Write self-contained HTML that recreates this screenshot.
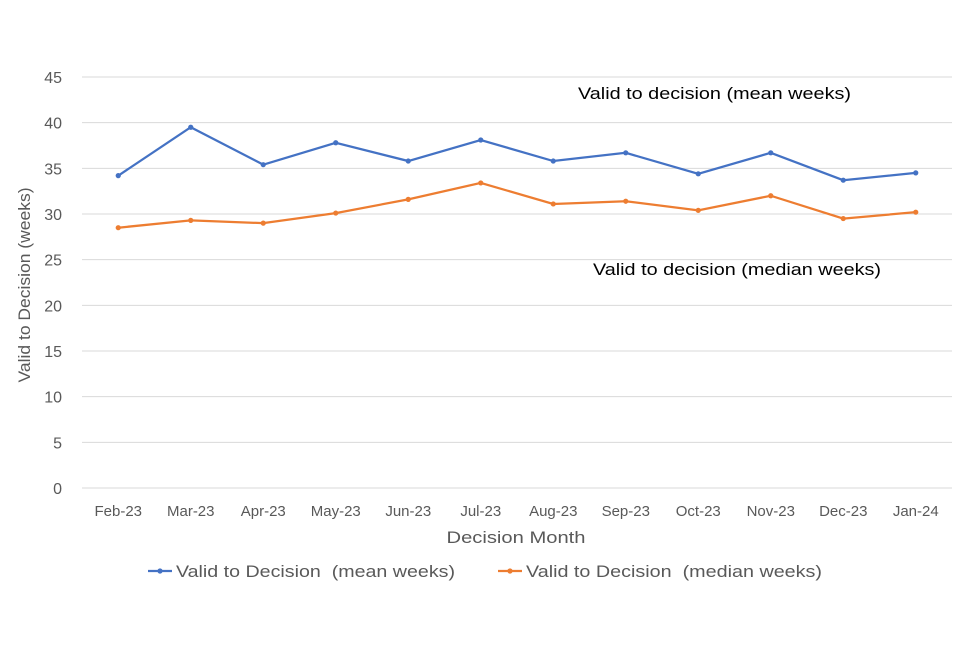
<!DOCTYPE html>
<html><head><meta charset="utf-8"><style>
body{margin:0;background:#fff;}
svg text{font-family:"Liberation Sans",sans-serif;fill:#595959;white-space:pre;}
</style></head><body>
<svg id="chart" width="960" height="640" xmlns="http://www.w3.org/2000/svg"></svg>
<script>
const categories=["Feb-23","Mar-23","Apr-23","May-23","Jun-23","Jul-23","Aug-23","Sep-23","Oct-23","Nov-23","Dec-23","Jan-24"];
const meanWeeks=[34.2,39.5,35.4,37.8,35.8,38.1,35.8,36.7,34.4,36.7,33.7,34.5];
const medianWeeks=[28.5,29.3,29.0,30.1,31.6,33.4,31.1,31.4,30.4,32.0,29.5,30.2];
const yTicks=[0,5,10,15,20,25,30,35,40,45];
const svg=document.getElementById('chart');
const NS="http://www.w3.org/2000/svg";
const x0=82,x1=952,y0=488,yTop=77;
function xs(i){return x0+(x1-x0)/categories.length*(i+0.5);}
function ys(v){return y0-(y0-yTop)*v/45;}
function mk(tag,attrs,parent){const e=document.createElementNS(NS,tag);for(const k in attrs)e.setAttribute(k,attrs[k]);(parent||svg).appendChild(e);return e;}
yTicks.forEach(t=>{
  const l=mk('line',{x1:x0,x2:x1,y1:ys(t),y2:ys(t),stroke:'#d9d9d9','stroke-width':1});
  
  
  const tx=mk('text',{x:62,y:ys(t)+6,'text-anchor':'end','font-size':16});
  tx.textContent=t;
  
  
});
categories.forEach((c,i)=>{
  const tx=mk('text',{x:xs(i),y:516,'text-anchor':'middle','font-size':15});
  tx.textContent=c;
  
  
});
function series(vals,color,name){
  const g=mk('g',{});
  
  
  mk('polyline',{points:vals.map((v,i)=>xs(i)+','+ys(v)).join(' '),fill:'none',stroke:color,'stroke-width':2.25},g);
  vals.forEach((v,i)=>{
    const c=mk('circle',{cx:xs(i),cy:ys(v),r:2.6,fill:color},g);
    
    
  });
}
series(meanWeeks,'#4472c4','mean-series');
series(medianWeeks,'#ed7d31','median-series');
function txt(s,x,y,size,name,extra){const t=mk('text',Object.assign({x:x,y:y,'font-size':size},extra||{}));t.textContent=s;return t;}
txt('Valid to decision (mean weeks)',578,99,17,'mean-annotation',{style:'fill:#000',textLength:273,lengthAdjust:'spacingAndGlyphs'});
txt('Valid to decision (median weeks)',593,275,17,'median-annotation',{style:'fill:#000',textLength:288,lengthAdjust:'spacingAndGlyphs'});
txt('Decision Month',516,543,17,'x-axis-title',{'text-anchor':'middle',textLength:139,lengthAdjust:'spacingAndGlyphs'});
txt('Valid to Decision (weeks)',0,0,17,'y-axis-title',{'text-anchor':'middle',transform:'translate(30,285) rotate(-90)',textLength:195,lengthAdjust:'spacingAndGlyphs'});
const lg=mk('g',{});


mk('line',{x1:148,x2:172,y1:571,y2:571,stroke:'#4472c4','stroke-width':2.25},lg);
mk('circle',{cx:160,cy:571,r:2.6,fill:'#4472c4'},lg);
txt('Valid to Decision  (mean weeks)',176,577,17,'legend-entry-mean',{textLength:279,lengthAdjust:'spacingAndGlyphs'});
mk('line',{x1:498,x2:522,y1:571,y2:571,stroke:'#ed7d31','stroke-width':2.25},lg);
mk('circle',{cx:510,cy:571,r:2.6,fill:'#ed7d31'},lg);
txt('Valid to Decision  (median weeks)',526,577,17,'legend-entry-median',{textLength:296,lengthAdjust:'spacingAndGlyphs'});
</script>
</body></html>
